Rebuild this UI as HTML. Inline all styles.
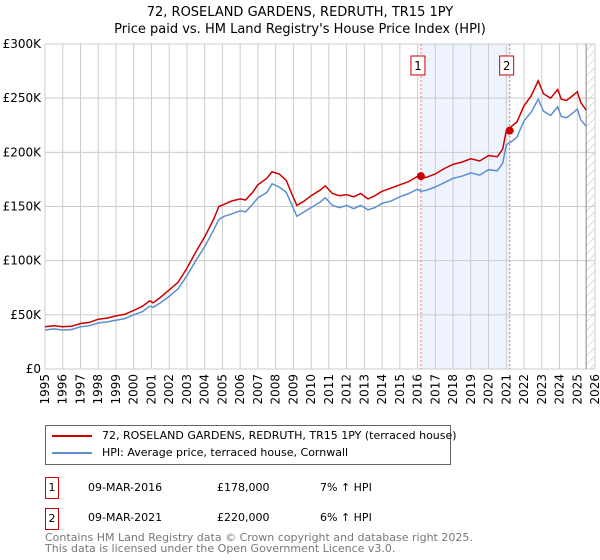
<!DOCTYPE html>
<html><head><meta charset="utf-8"><style>
body{margin:0;background:#fff;font-family:"DejaVu Sans","Liberation Sans",sans-serif;}
#wrap{position:relative;width:600px;height:560px;overflow:hidden;}
.t{position:absolute;font-size:12px;color:#000;white-space:nowrap;line-height:14px;}
</style></head><body><div id="wrap">
<svg id="chart" width="600" height="420" style="position:absolute;left:0;top:0">
<text x="300" y="16" text-anchor="middle" font-size="13" font-family="DejaVu Sans,sans-serif">72, ROSELAND GARDENS, REDRUTH, TR15 1PY</text>
<text x="300" y="33" text-anchor="middle" font-size="13" font-family="DejaVu Sans,sans-serif">Price paid vs. HM Land Registry's House Price Index (HPI)</text>
<defs><pattern id="hatch" width="6" height="6" patternUnits="userSpaceOnUse" patternTransform="rotate(45)"><line x1="0" y1="0" x2="0" y2="6" stroke="#bbb" stroke-width="1"/></pattern></defs>
<g id="grid"></g><g id="marks"></g><g id="axes"></g>
</svg>
<div style="position:absolute;left:45px;top:425px;width:404px;height:38px;border:1px solid #666;">
<div style="position:absolute;left:6px;top:9px;width:40px;height:2px;background:#cc0000"></div>
<div class="t" style="left:56px;top:3px;font-size:11px">72, ROSELAND GARDENS, REDRUTH, TR15 1PY (terraced house)</div>
<div style="position:absolute;left:6px;top:26px;width:40px;height:2px;background:#5b8fd0"></div>
<div class="t" style="left:56px;top:20px;font-size:11px">HPI: Average price, terraced house, Cornwall</div>
</div>
<div style="position:absolute;left:45px;top:477px;width:12px;height:20px;border:1px solid #cc0000;font-size:11px;text-align:center;line-height:20px">1</div>
<div class="t" style="left:88px;top:481px;font-size:11px">09-MAR-2016</div>
<div class="t" style="left:217px;top:481px;font-size:11px">£178,000</div>
<div class="t" style="left:320px;top:481px;font-size:11px">7% ↑ HPI</div>
<div style="position:absolute;left:45px;top:508px;width:12px;height:20px;border:1px solid #cc0000;font-size:11px;text-align:center;line-height:20px">2</div>
<div class="t" style="left:88px;top:511px;font-size:11px">09-MAR-2021</div>
<div class="t" style="left:217px;top:511px;font-size:11px">£220,000</div>
<div class="t" style="left:320px;top:511px;font-size:11px">6% ↑ HPI</div>
<div class="t" style="left:45px;top:532px;color:#777;font-size:11px;line-height:11px">Contains HM Land Registry data © Crown copyright and database right 2025.<br>This data is licensed under the Open Government Licence v3.0.</div>
</div>
<script>
const yearTicks=[1995,1996,1997,1998,1999,2000,2001,2002,2003,2004,2005,2006,2007,2008,2009,2010,2011,2012,2013,2014,2015,2016,2017,2018,2019,2020,2021,2022,2023,2024,2025,2026];
const priceTicks=[0,50,100,150,200,250,300];
const priceTickLabels=["£0","£50K","£100K","£150K","£200K","£250K","£300K"];
const dates=[1995,1995.5,1996,1996.5,1997,1997.5,1998,1998.5,1999,1999.5,2000,2000.5,2000.9,2001.1,2001.5,2002,2002.5,2003,2003.5,2004,2004.5,2004.8,2005.1,2005.5,2006,2006.3,2006.7,2007,2007.5,2007.8,2008.2,2008.6,2008.9,2009.2,2009.6,2010,2010.5,2010.8,2011.2,2011.6,2012,2012.4,2012.8,2013.2,2013.6,2014,2014.5,2015,2015.5,2016,2016.2,2016.5,2017,2017.5,2018,2018.5,2019,2019.5,2020,2020.5,2020.8,2021,2021.3,2021.6,2022,2022.4,2022.8,2023.1,2023.5,2023.9,2024.1,2024.4,2024.8,2025,2025.2,2025.5];
const hpiValues=[36,37,36,36.5,39,40,42.5,43.5,45,46.5,50,53,58,57,61,67,74,86,100,113,128,138,141,143,146,145,152,158,163,171,168,163,152,141,145,149,154,158,151,149,151,148,151,147,149,153,155,159,162,166,164,165,168,172,176,178,181,179,184,183,190,207,210,214,229,237,249,238,234,242,233,232,237,240,230,224];
const propertyValues=[39,40,39,39.5,42,43,46,47,49,50.5,54,58,63,61,66,73,80,93,108,122,138,150,152,155,157,156,163,170,176,182,180,174,162,151,155,160,165,169,162,160,161,159,162,157,160,164,167,170,173,178,176,177,180,185,189,191,194,192,197,196,203,220,224,228,243,252,266,254,250,258,249,248,253,256,246,239];
const saleDates=[2016.19,2021.19];
const salePrices=[178,220];
const saleLabels=["1","2"];
const X0=45,X1=595,Y0=369,Y1=44;
const xs=v=>X0+(v-1995)/(2026-1995)*(X1-X0);
const ys=v=>Y0-v/300*(Y0-Y1);
const NS="http://www.w3.org/2000/svg";
function mk(tag,attrs,parent){const e=document.createElementNS(NS,tag);for(const k in attrs)e.setAttribute(k,attrs[k]);parent.appendChild(e);return e;}
const grid=document.getElementById('grid'),marks=document.getElementById('marks'),axes=document.getElementById('axes');
let sh=mk('rect',{x:xs(saleDates[0]),y:Y1,width:xs(saleDates[1])-xs(saleDates[0]),height:Y0-Y1,fill:'#eef3fd'},grid);


let ht=mk('rect',{x:xs(2025.5),y:Y1,width:X1-xs(2025.5),height:Y0-Y1,fill:'url(#hatch)'},grid);


yearTicks.forEach(y=>{
  let l=mk('line',{x1:xs(y),x2:xs(y),y1:Y1,y2:Y0,stroke:'#ccc','stroke-width':1},grid);
  
  
  let t=mk('text',{x:0,y:0,transform:`translate(${xs(y)+4},${Y0+5}) rotate(-90)`,'text-anchor':'end','font-size':12,'font-family':'DejaVu Sans,sans-serif'},axes);
  t.textContent=y;
  
  
});
priceTicks.forEach((p,i)=>{
  let l=mk('line',{x1:X0,x2:X1,y1:ys(p),y2:ys(p),stroke:'#ccc','stroke-width':1},grid);
  
  
  let t=mk('text',{x:X0-4,y:ys(p)+4,'text-anchor':'end','font-size':12,'font-family':'DejaVu Sans,sans-serif'},axes);
  t.textContent=priceTickLabels[i];
  
  
});
let cl=mk('line',{x1:xs(2025.5),x2:xs(2025.5),y1:Y1,y2:Y0,stroke:'#888','stroke-width':1},grid);


const pts=a=>dates.map((d,i)=>xs(d).toFixed(1)+','+ys(a[i]).toFixed(1)).join(' ');
let hl=mk('polyline',{points:pts(hpiValues),fill:'none',stroke:'#5b8fd0','stroke-width':1.5},marks);


let pl=mk('polyline',{points:pts(propertyValues),fill:'none',stroke:'#cc0000','stroke-width':1.5},marks);


saleDates.forEach((d,i)=>{
  let v=mk('line',{x1:xs(d),x2:xs(d),y1:Y1,y2:Y0,stroke:'#f07070','stroke-width':1,'stroke-dasharray':'2,2'},marks);
  
  
  let c=mk('circle',{cx:xs(d),cy:ys(salePrices[i]),r:4,fill:'#cc0000'},marks);
  
  
  let b=mk('rect',{x:xs(d)-10,y:56,width:14,height:19,fill:'#fff',stroke:'#cc0000'},marks);
  
  
  let t=mk('text',{x:xs(d)-3,y:70,'text-anchor':'middle','font-size':12,'font-family':'DejaVu Sans,sans-serif'},marks);
  t.textContent=saleLabels[i];
  
  
});
</script>
</body></html>
